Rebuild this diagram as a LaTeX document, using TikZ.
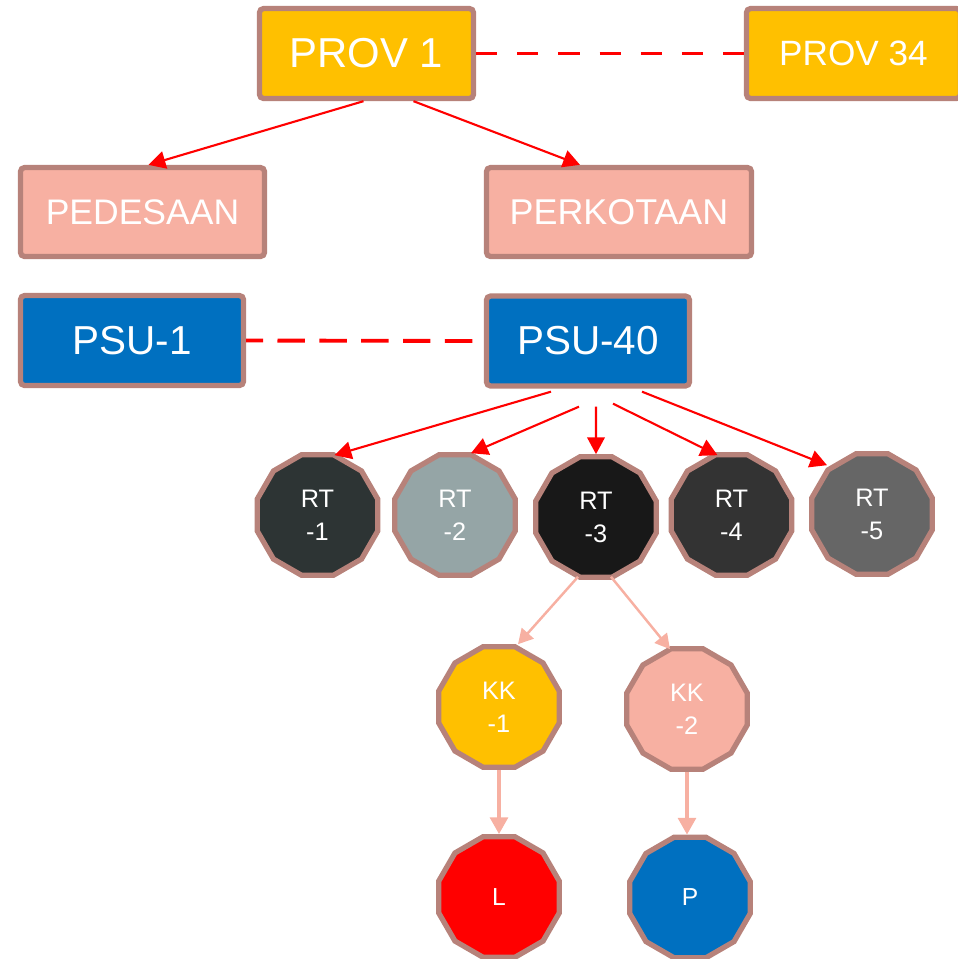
\documentclass[tikz,border=0pt]{standalone}
\usepackage{fontspec}
\setmainfont{Liberation Sans}
\usetikzlibrary{shapes.geometric,arrows.meta,calc}
\definecolor{bord}{HTML}{B7827A}
\definecolor{gold}{HTML}{FFC000}
\definecolor{salm}{HTML}{F7B0A2}
\definecolor{psublue}{HTML}{0070C0}
\definecolor{rtA}{HTML}{2D3434}
\definecolor{rtB}{HTML}{95A5A6}
\definecolor{rtC}{HTML}{181818}
\definecolor{rtD}{HTML}{333333}
\definecolor{rtE}{HTML}{666666}
\definecolor{redL}{HTML}{FF0000}
\definecolor{blueP}{HTML}{0070C0}
\tikzset{
  box/.style={draw=bord, line width=1.5pt, rounded corners=1.2pt, text=white, inner sep=0pt, minimum height=0.90cm},
  poly/.style={regular polygon, regular polygon sides=12, minimum size=1.245cm, draw=bord, line width=1.5pt,
    inner sep=0pt, text=white, align=center, font=\fontsize{7.2}{9.4}\selectfont},
  redarrow/.style={draw=red, line width=0.6pt, -{Triangle[length=4.8pt,width=5pt]}},
  salmarrow/.style={draw=salm, line width=0.7pt, -{Triangle[length=4.2pt,width=4.5pt]}},
  thickarrow/.style={draw=salm, line width=1.4pt, -{Triangle[length=4.8pt,width=5pt]}},
  dashA/.style={draw=red, line width=1.1pt, dash pattern=on 6pt off 5.7pt},
  dashB/.style={draw=red, line width=1.1pt, dash pattern=on 7.8pt off 4.1pt, dash phase=3pt},
}
\begin{document}
\begin{tikzpicture}[x=0.01cm, y=-0.01cm]
\useasboundingbox (0,0) rectangle (958,959);
\clip (0,0) rectangle (958,959);

% top boxes
\node[box, fill=gold, minimum width=2.14cm, font=\fontsize{11.9}{14}\selectfont] (prov1) at (366.5,53.5) {PROV 1};
\node[box, fill=gold, minimum width=2.14cm, font=\fontsize{10}{12}\selectfont] (prov34) at (853.5,53.5) {PROV 34};
\node[box, fill=salm, minimum width=2.44cm, minimum height=0.89cm, font=\fontsize{10.1}{12}\selectfont] (pedesaan) at (142.5,212) {PEDESAAN};
\node[box, fill=salm, minimum width=2.65cm, minimum height=0.89cm, font=\fontsize{10.2}{12}\selectfont] (perkotaan) at (619,212) {PERKOTAAN};
\node[box, fill=psublue, minimum width=2.23cm, font=\fontsize{11.5}{14}\selectfont] (psu1) at (132,340.5) {PSU-1};
\node[box, fill=psublue, minimum width=2.03cm, font=\fontsize{11.5}{14}\selectfont] (psu40) at (588,341) {PSU-40};

% RT nodes
\node[poly, fill=rtA] (rt1) at (317.5,515) {RT\\-1};
\node[poly, fill=rtB] (rt2) at (455,515) {RT\\-2};
\node[poly, fill=rtC] (rt3) at (596,517) {RT\\-3};
\node[poly, fill=rtD] (rt4) at (731.5,515) {RT\\-4};
\node[poly, fill=rtE] (rt5) at (872,514) {RT\\-5};

% KK nodes
\node[poly, fill=gold] (kk1) at (499,707) {KK\\-1};
\node[poly, fill=salm] (kk2) at (687,709) {KK\\-2};

% L, P
\node[poly, fill=redL, font=\fontsize{7}{8}\selectfont] (l) at (499,897) {L};
\node[poly, fill=blueP, font=\fontsize{7}{8}\selectfont] (p) at (690,897.5) {P};

% dashed links
\draw[dashA] (prov1.east) -- (prov34.west);
\draw[dashB] (psu1.east) -- (psu40.west);

% red arrows
\draw[redarrow] ($(prov1.south)+(-3,0)$) -- ($(pedesaan.north)+(6,0)$);
\draw[redarrow] ($(prov1.south)+(47,0)$) -- ($(perkotaan.north)+(-39,0)$);

\draw[redarrow] ($(psu40.south)+(-37,3)$) -- ($(rt1.north)+(17,3)$);
\draw[redarrow] ($(psu40.south)+(-9,18)$) -- ($(rt2.north)+(16,1)$);
\draw[redarrow] ($(psu40.south)+(8,18)$) -- (rt3.north);
\draw[redarrow] ($(psu40.south)+(25,15)$) -- ($(rt4.north)+(-14,3)$);
\draw[redarrow] ($(psu40.south)+(54,3)$) -- ($(rt5.north)+(-45,14)$);

% salmon arrows
\draw[salmarrow] ($(rt3.south)+(-18,-3)$) -- ($(kk1.north)+(19,0)$);
\draw[salmarrow] ($(rt3.south)+(15,-3)$) -- ($(kk2.north)+(-17,3)$);

\draw[thickarrow] (kk1.south) -- (kk1.south |- l.north);
\draw[thickarrow] (kk2.south) -- (kk2.south |- p.north);
\end{tikzpicture}
\end{document}
